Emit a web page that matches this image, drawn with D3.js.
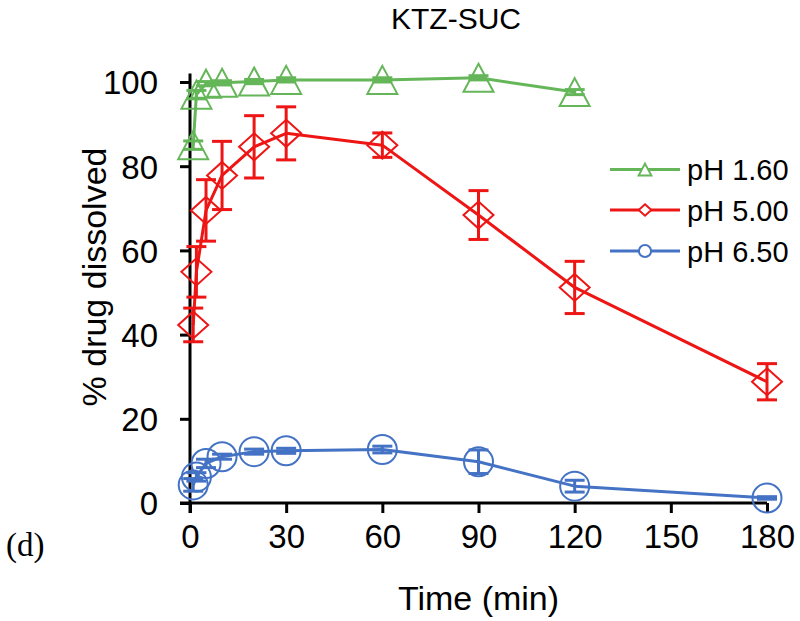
<!DOCTYPE html>
<html>
<head>
<meta charset="utf-8">
<script src="https://cdn.jsdelivr.net/npm/d3@7"></script>
<style>
  html, body { margin: 0; padding: 0; background: #fff; }
  svg { display: block; }
  text { font-family: "Liberation Sans", Arial, sans-serif; fill: #000; }
</style>
</head>
<body>
<svg id="chart" width="800" height="621"></svg>
<script>
// ---- data ----
const times = [1, 2, 5, 10, 20, 30, 60, 90, 120, 180];
const xTicks = [0, 30, 60, 90, 120, 150, 180];
const yTicks = [0, 20, 40, 60, 80, 100];

const ph160Times = [1, 2, 5, 10, 20, 30, 60, 90, 120];
const ph160Values = [85, 97, 99.6, 99.8, 100.1, 100.5, 100.5, 101, 97.6];
const ph160Err = [1, 1, 0.5, 0.5, 0.5, 0.5, 0.5, 0.5, 0.6];

const ph500Times = times;
const ph500Values = [42.3, 54.9, 69.5, 77.8, 84.6, 87.8, 85.0, 68.4, 51.2, 28.8];
const ph500Err = [4.0, 6.0, 7.3, 8.1, 7.4, 6.3, 2.9, 5.8, 6.2, 4.3];

const ph650Times = times;
const ph650Values = [4.3, 6.2, 9.4, 11.0, 12.2, 12.4, 12.7, 9.8, 4.0, 1.2];
const ph650Err = [1.5, 1.0, 1.0, 0.6, 0.6, 0.6, 0.8, 2.8, 1.4, 0.3];

const seriesNames = ["pH 1.60", "pH 5.00", "pH 6.50"];
const seriesColors = ["#64b658", "#ee1515", "#4472c4"];
const seriesShapes = ["triangle", "diamond", "circle"];

const titleText = "KTZ-SUC";
const xTitle = "Time (min)";
const yTitle = "% drug dissolved";
const panelLabel = "(d)";

// ---- layout ----
const svg = d3.select("#chart");
const x = d3.scaleLinear().domain([0, 180]).range([190, 767]);
const y = d3.scaleLinear().domain([0, 100]).range([503, 82]);

function shapePath(shape, s) {
  if (shape === "triangle") {
    const w = 15 * s, h = 14 * s;
    return `M0,${-h}L${w},${h}L${-w},${h}Z`;
  }
  if (shape === "diamond") {
    const w = 15 * s, h = 13.5 * s;
    return `M0,${-h}L${w},0L0,${h}L${-w},0Z`;
  }
  const r = 14.5 * s;
  return `M${r},0A${r},${r} 0 1,1 ${-r},0A${r},${r} 0 1,1 ${r},0Z`;
}

// title
svg.append("text").attr("x", 456).attr("y", 29).attr("text-anchor", "middle")
  .style("font-size", "30px").text(titleText);

// axes
const xAxis = d3.axisBottom(x).tickValues(xTicks).tickSize(10).tickPadding(12).tickSizeOuter(0);
const yAxis = d3.axisLeft(y).tickValues(yTicks).tickSize(10).tickPadding(22).tickSizeOuter(0);

const gx = svg.append("g").attr("transform", `translate(0,${y(0)})`).call(xAxis);
const gy = svg.append("g").attr("transform", `translate(${x(0)},0)`).call(yAxis);

[gx, gy].forEach(g => {
  g.select(".domain").remove();
  g.selectAll(".tick line").attr("stroke", "#000").attr("stroke-width", 3);
  g.selectAll(".tick text").style("font-size", "33px")
    .style("font-family", "'Liberation Sans', Arial, sans-serif").attr("fill", "#000");
});
gx.selectAll(".tick text").attr("dy", "0.71em");
gy.selectAll(".tick text").attr("dy", "0.36em");

// axis lines
svg.append("line").attr("x1", x(0) - 10).attr("x2", x(180)).attr("y1", y(0)).attr("y2", y(0))
  .attr("stroke", "#000").attr("stroke-width", 3);
svg.append("line").attr("x1", x(0)).attr("x2", x(0)).attr("y1", y(0) + 10).attr("y2", y(102))
  .attr("stroke", "#000").attr("stroke-width", 3);

// axis titles
svg.append("text").attr("x", (x(0) + x(180)) / 2).attr("y", 610).attr("text-anchor", "middle")
  .style("font-size", "34px").text(xTitle);
svg.append("text").attr("transform", "translate(106,277) rotate(-90)").attr("text-anchor", "middle")
  .style("font-size", "34px").text(yTitle);

// panel label
svg.append("text").attr("x", 6).attr("y", 556)
  .style("font-family", "'Liberation Serif', 'Times New Roman', serif").style("font-size", "33px")
  .text(panelLabel);

// series
const series = [
  { t: ph160Times, v: ph160Values, e: ph160Err },
  { t: ph500Times, v: ph500Values, e: ph500Err },
  { t: ph650Times, v: ph650Values, e: ph650Err }
];

const line = d3.line().x(d => x(d.t)).y(d => y(d.v));
const capW = 10;

[2, 1, 0].forEach(i => {
  const s = series[i];
  const pts = s.t.map((t, k) => ({ t, v: s.v[k], e: s.e[k] }));
  const col = seriesColors[i];
  const g = svg.append("g");
  const eb = g.selectAll(".eb").data(pts).enter().append("g");
  eb.append("line").attr("x1", d => x(d.t)).attr("x2", d => x(d.t))
    .attr("y1", d => y(d.v - d.e)).attr("y2", d => y(d.v + d.e))
    .attr("stroke", col).attr("stroke-width", 3);
  eb.append("line").attr("x1", d => x(d.t) - capW).attr("x2", d => x(d.t) + capW)
    .attr("y1", d => y(d.v - d.e)).attr("y2", d => y(d.v - d.e))
    .attr("stroke", col).attr("stroke-width", 3);
  eb.append("line").attr("x1", d => x(d.t) - capW).attr("x2", d => x(d.t) + capW)
    .attr("y1", d => y(d.v + d.e)).attr("y2", d => y(d.v + d.e))
    .attr("stroke", col).attr("stroke-width", 3);
  g.append("path").datum(pts).attr("d", line).attr("fill", "none")
    .attr("stroke", col).attr("stroke-width", 3).attr("stroke-linejoin", "round");
  g.selectAll(".mk").data(pts).enter().append("path")
    .attr("transform", d => `translate(${x(d.t)},${y(d.v)})`)
    .attr("d", shapePath(seriesShapes[i], 1))
    .attr("fill", "none").attr("stroke", col).attr("stroke-width", 2);
});

// legend
const legendY = [169.5, 210, 251];
seriesNames.forEach((name, i) => {
  const g = svg.append("g").attr("transform", `translate(0,${legendY[i]})`);
  g.append("line").attr("x1", 610).attr("x2", 680).attr("y1", 0).attr("y2", 0)
    .attr("stroke", seriesColors[i]).attr("stroke-width", 3);
  g.append("path").attr("transform", "translate(645,0)")
    .attr("d", shapePath(seriesShapes[i], 0.42))
    .attr("fill", "#fff").attr("stroke", seriesColors[i]).attr("stroke-width", 2);
  g.append("text").attr("x", 687).attr("y", 10.5).style("font-size", "29px").text(name);
});
</script>
</body>
</html>
